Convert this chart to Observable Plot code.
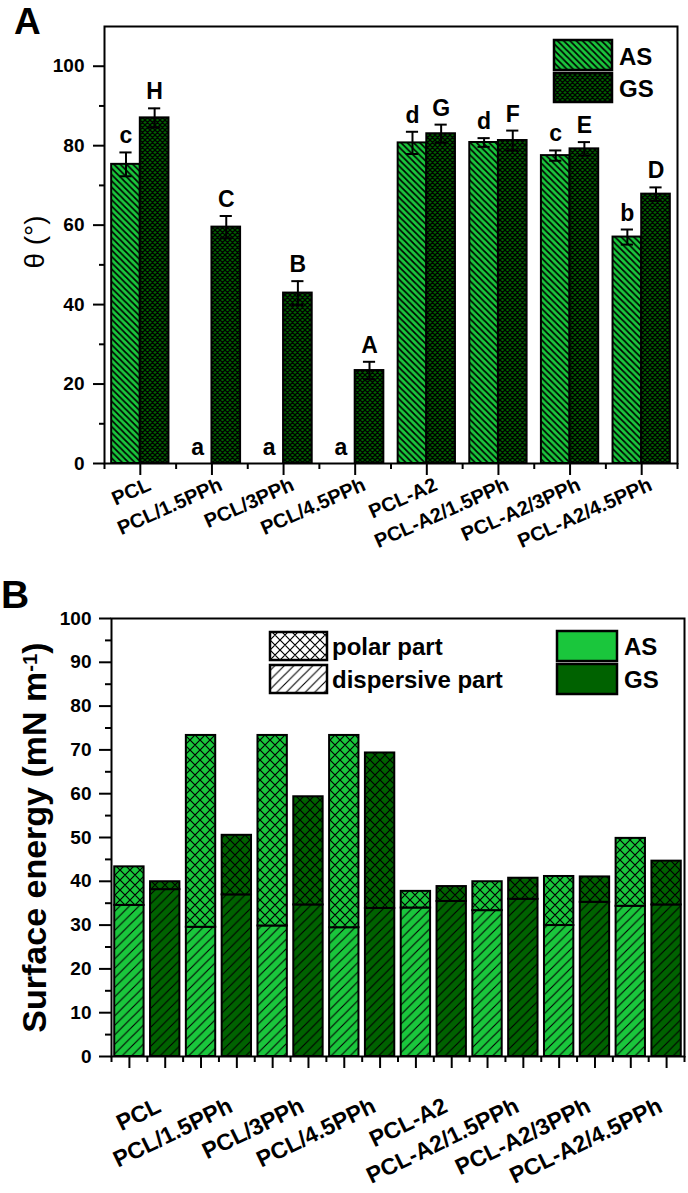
<!DOCTYPE html>
<html><head><meta charset="utf-8">
<script src="https://cdn.jsdelivr.net/npm/d3@7"></script>
<script src="https://cdn.jsdelivr.net/npm/@observablehq/plot@0.6"></script>
<style>
html,body{margin:0;padding:0;background:#fff;}
#wrap{position:relative;width:688px;height:1193px;overflow:hidden;font-family:"Liberation Sans",Arial,Helvetica,sans-serif;}
#wrap svg{display:block;}
#plotA{position:absolute;left:0;top:0;}
#plotB{position:absolute;left:0;top:570px;}
#overlay{position:absolute;left:0;top:0;pointer-events:none;}
#plotA g[aria-label="y-axis tick label"]{font-size:19px;font-weight:bold;}
#plotB g[aria-label="y-axis tick label"]{font-size:19px;font-weight:bold;}
</style></head><body>
<div id="wrap"><div id="plotA"></div><div id="plotB"></div><svg id="overlay" width="688" height="1193"></svg></div>
<script>
const font = '"Liberation Sans", Arial, Helvetica, sans-serif';
const LIGHT = "#1ac63c";
const DARK = "#006200";

// ---------- data ----------
const groups = ["PCL","PCL/1.5PPh","PCL/3PPh","PCL/4.5PPh","PCL-A2","PCL-A2/1.5PPh","PCL-A2/3PPh","PCL-A2/4.5PPh"];
// Panel A: contact angle θ (°)
const thetaAS    = [75.3, 0, 0, 0, 80.7, 80.8, 77.5, 57.0];
const thetaASerr = [3.0, 0, 0, 0, 2.8, 1.1, 1.3, 1.9];
const thetaGS    = [87.0, 59.5, 42.9, 23.4, 83.0, 81.3, 79.2, 67.8];
const thetaGSerr = [2.4, 2.8, 3.0, 2.2, 2.3, 2.5, 1.7, 1.7];
const lettersAS  = ["c","a","a","a","d","d","c","b"];
const lettersGS  = ["H","C","B","A","G","F","E","D"];
const yTicksA = [0, 20, 40, 60, 80, 100];
const yMinorA = [10, 30, 50, 70, 90];
// Panel B: surface energy (mN m-1)
const dispAS  = [34.5, 29.5, 29.8, 29.4, 33.9, 33.3, 29.9, 34.3];
const totalAS = [43.3, 73.3, 73.3, 73.3, 37.7, 39.9, 41.1, 49.8];
const dispGS  = [38.1, 36.9, 34.6, 33.8, 35.4, 35.9, 35.2, 34.6];
const totalGS = [39.9, 50.5, 59.3, 69.3, 38.8, 40.7, 41.0, 44.6];
const yTicksB = [0,10,20,30,40,50,60,70,80,90,100];
const yMinorB = [5,15,25,35,45,55,65,75,85,95];

// ---------- patterns ----------
function pattern(id, s, bg, kind, sw) {
  let d = "";
  if (kind === "back" || kind === "cross") d += `M0,0L${s},${s}M${-s/2},${s/2}L${s/2},${1.5*s}M${s/2},${-s/2}L${1.5*s},${s/2}`;
  if (kind === "fwd" || kind === "cross") d += `M0,${s}L${s},0M${-s/2},${s/2}L${s/2},${-s/2}M${s/2},${1.5*s}L${1.5*s},${s/2}`;
  return `<pattern id="${id}" patternUnits="userSpaceOnUse" width="${s}" height="${s}"><rect width="${s}" height="${s}" fill="${bg}"/><path d="${d}" stroke="black" stroke-width="${sw}" fill="none"/></pattern>`;
}
const overlay = document.getElementById("overlay");
let defs = "<defs>" +
  pattern("pA_AS", 6.3, LIGHT, "back", 1.7) +
  pattern("pA_GS", 5, DARK, "cross", 1.3) +
  pattern("pB_disp_AS", 9.5, LIGHT, "fwd", 1.1) +
  pattern("pB_disp_GS", 9.5, DARK, "fwd", 1.1) +
  pattern("pB_polar_AS", 10, LIGHT, "cross", 1.2) +
  pattern("pB_polar_GS", 10, DARK, "cross", 1.2) +
  pattern("pB_disp_W", 9.5, "#fff", "fwd", 1.1) +
  pattern("pB_polar_W", 10, "#fff", "cross", 1.2) +
  "</defs>";

// ---------- panel A ----------
const rowsA = [];
groups.forEach((g, i) => {
  rowsA.push({i, s: "AS", v: thetaAS[i], e: thetaASerr[i], letter: lettersAS[i], c: i - 0.2});
  rowsA.push({i, s: "GS", v: thetaGS[i], e: thetaGSerr[i], letter: lettersGS[i], c: i + 0.2});
});
const errA = rowsA.filter(d => d.e > 0);
const hw = 0.2, cap = 0.085;

const chartA = Plot.plot({
  width: 688, height: 570,
  marginLeft: 104, marginRight: 11, marginTop: 26, marginBottom: 107,
  x: {domain: [-0.5, groups.length - 0.5], axis: null},
  y: {domain: [0, 110], axis: null},
  style: {fontFamily: font, color: "black", background: "transparent", overflow: "visible"},
  marks: [
    Plot.rect(rowsA.filter(d => d.s === "AS" && d.v > 0), {x1: d => d.c - hw, x2: d => d.c + hw, y1: 0, y2: "v", fill: "url(#pA_AS)", stroke: "black", strokeWidth: 2}),
    Plot.rect(rowsA.filter(d => d.s === "GS"), {x1: d => d.c - hw, x2: d => d.c + hw, y1: 0, y2: "v", fill: "url(#pA_GS)", stroke: "black", strokeWidth: 2}),
    Plot.ruleX(errA, {x: "c", y1: d => d.v - d.e, y2: d => d.v + d.e, stroke: "black", strokeWidth: 2}),
    Plot.ruleY(errA, {y: d => d.v + d.e, x1: d => d.c - cap, x2: d => d.c + cap, stroke: "black", strokeWidth: 2}),
    Plot.ruleY(errA, {y: d => d.v - d.e, x1: d => d.c - cap, x2: d => d.c + cap, stroke: "black", strokeWidth: 2}),
    Plot.text(rowsA, {x: "c", y: d => d.v + d.e, text: "letter", dy: -9, lineAnchor: "bottom", fontSize: 23, fontWeight: "bold", fill: "black"}),
    Plot.axisY({ticks: yTicksA, tickSize: 11, tickPadding: 9, strokeWidth: 2, label: null}),
    Plot.axisY({ticks: yMinorA, tickSize: 5, tickFormat: () => "", strokeWidth: 2, label: null}),
    Plot.axisX({ticks: d3.range(groups.length), tickSize: 12, tickFormat: () => "", strokeWidth: 2, label: null}),
    Plot.axisX({ticks: d3.range(groups.length + 1).map(k => k - 0.5), tickSize: 6, tickFormat: () => "", strokeWidth: 2, label: null}),
    Plot.text(groups, {x: (d, i) => i, frameAnchor: "bottom", text: d => d, rotate: -24, textAnchor: "end", lineAnchor: "top", dx: 6, dy: 13, fontSize: 20, fontWeight: "bold", fill: "black"}),
    Plot.text(["θ (°)"], {frameAnchor: "left", text: d => d, dx: -69, dy: -3, rotate: -90, textAnchor: "middle", lineAnchor: "middle", fontSize: 28, fill: "black"}),
    Plot.frame({stroke: "black", strokeWidth: 2})
  ]
});
document.getElementById("plotA").appendChild(chartA);

// ---------- panel B ----------
const rowsB = [];
groups.forEach((g, i) => {
  rowsB.push({i, s: "AS", j: 2 * i, disp: dispAS[i], total: totalAS[i]});
  rowsB.push({i, s: "GS", j: 2 * i + 1, disp: dispGS[i], total: totalGS[i]});
});
const bw = 0.41;
const nB = rowsB.length;
const chartB = Plot.plot({
  width: 688, height: 623,
  marginLeft: 111, marginRight: 4, marginTop: 48, marginBottom: 137,
  x: {domain: [-0.5, nB - 0.5], axis: null},
  y: {domain: [0, 100], axis: null},
  style: {fontFamily: font, color: "black", background: "transparent", overflow: "visible"},
  marks: [
    Plot.rect(rowsB.filter(d => d.s === "AS"), {x1: d => d.j - bw, x2: d => d.j + bw, y1: 0, y2: "disp", fill: "url(#pB_disp_AS)", stroke: "black", strokeWidth: 2}),
    Plot.rect(rowsB.filter(d => d.s === "AS"), {x1: d => d.j - bw, x2: d => d.j + bw, y1: "disp", y2: "total", fill: "url(#pB_polar_AS)", stroke: "black", strokeWidth: 2}),
    Plot.rect(rowsB.filter(d => d.s === "GS"), {x1: d => d.j - bw, x2: d => d.j + bw, y1: 0, y2: "disp", fill: "url(#pB_disp_GS)", stroke: "black", strokeWidth: 2}),
    Plot.rect(rowsB.filter(d => d.s === "GS"), {x1: d => d.j - bw, x2: d => d.j + bw, y1: "disp", y2: "total", fill: "url(#pB_polar_GS)", stroke: "black", strokeWidth: 2}),
    Plot.axisY({ticks: yTicksB, tickSize: 12, tickPadding: 8, strokeWidth: 2, label: null}),
    Plot.axisY({ticks: yMinorB, tickSize: 6, tickFormat: () => "", strokeWidth: 2, label: null}),
    Plot.axisX({ticks: d3.range(nB), tickSize: 12, tickFormat: () => "", strokeWidth: 2, label: null}),
    Plot.axisX({ticks: d3.range(nB + 1).map(k => k - 0.5), tickSize: 6, tickFormat: () => "", strokeWidth: 2, label: null}),
    Plot.text(groups, {x: (d, i) => 2 * i + 0.5, frameAnchor: "bottom", text: d => d, rotate: -26, textAnchor: "end", lineAnchor: "top", dx: 8, dy: 40, fontSize: 23, fontWeight: "bold", fill: "black"}),
    Plot.text(["Surface energy (mN m-1)"], {frameAnchor: "left", text: d => d, dx: -76, rotate: -90, textAnchor: "middle", lineAnchor: "middle", fontSize: 34, fontWeight: "bold", fill: "black"}),
    Plot.frame({stroke: "black", strokeWidth: 2})
  ]
});
document.getElementById("plotB").appendChild(chartB);
chartB.querySelectorAll("text").forEach(t => {
  if (t.textContent === "Surface energy (mN m-1)") {
    t.innerHTML = 'Surface energy (mN m<tspan dy="-0.45em" font-size="0.6em">-1</tspan><tspan dy="0.27em">)</tspan>';
  }
});

// ---------- legends & panel letters ----------
const T = (x, y, s, size, extra = "") => `<text x="${x}" y="${y}" font-family='${font}' font-size="${size}" font-weight="bold" dominant-baseline="central" ${extra}>${s}</text>`;
const box = (x, y, w, h, fill) => `<rect x="${x}" y="${y}" width="${w}" height="${h}" fill="${fill}" stroke="black" stroke-width="2.5"/>`;
overlay.innerHTML = defs +
  `<text x="14" y="34" font-family='${font}' font-size="37" font-weight="bold">A</text>` +
  `<text x="1" y="608" font-family='${font}' font-size="39" font-weight="bold">B</text>` +
  box(554, 40, 58, 30, "url(#pA_AS)") + T(619, 56, "AS", 24) +
  box(554, 73, 58, 29, "url(#pA_GS)") + T(619, 88, "GS", 24) +
  box(270, 632, 57, 28, "url(#pB_polar_W)") + T(332, 646, "polar part", 24) +
  box(270, 665, 57, 28, "url(#pB_disp_W)") + T(332, 679, "dispersive part", 24) +
  box(557, 631, 60, 30, LIGHT) + T(624, 646, "AS", 24) +
  box(557, 664, 60, 30, DARK) + T(624, 679, "GS", 24);
</script></body></html>
